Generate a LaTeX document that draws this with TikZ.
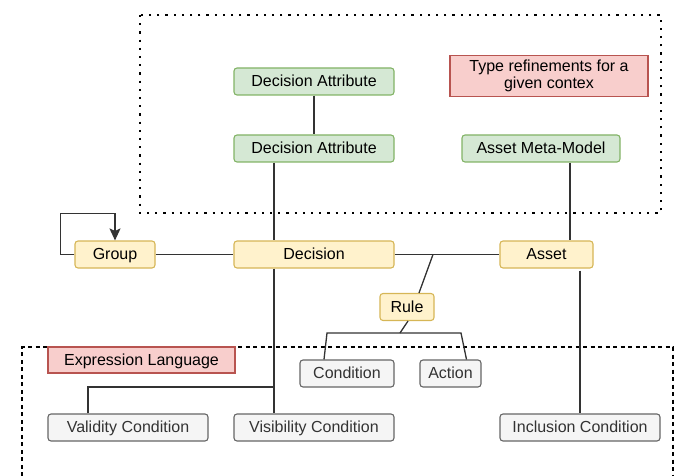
\documentclass[tikz,border=0pt]{standalone}
\usepackage{fontspec}
\setmainfont{Liberation Sans}
\usepackage{tikz}
\usetikzlibrary{arrows.meta}
\definecolor{greenfill}{HTML}{D5E8D4}
\definecolor{greenline}{HTML}{82B366}
\definecolor{yellowfill}{HTML}{FFF2CC}
\definecolor{yellowline}{HTML}{D6B656}
\definecolor{grayfill}{HTML}{F5F5F5}
\definecolor{grayline}{HTML}{666666}
\definecolor{redfill}{HTML}{F8CECC}
\definecolor{redline}{HTML}{B85450}
\definecolor{edgecol}{HTML}{333333}
\begin{document}
\begin{tikzpicture}[x=1pt,y=-1pt,
  box/.style={draw,rounded corners=3pt,line width=1.1pt,minimum height=27pt,inner sep=0pt,
    text height=12.5pt,text depth=2pt,font=\fontsize{16}{19}\selectfont},
  attr/.style={box,fill=greenfill,draw=greenline},
  elem/.style={box,fill=yellowfill,draw=yellowline},
  expr/.style={box,fill=grayfill,draw=grayline,text=edgecol},
  note/.style={draw=redline,fill=redfill,line width=1.1pt,inner sep=0pt,align=center,
    font=\fontsize{16}{19}\selectfont},
  link/.style={draw=edgecol,line width=1.3pt}]

\useasboundingbox (0,0) rectangle (680,476);

\draw[line width=2.2pt,dash pattern=on 2.2pt off 6pt] (140,15) rectangle (661,213);
\draw[line width=1.2pt,dash pattern=on 4pt off 3.5pt] (22,476)--(22,347)--(673,347)--(673,476);

\node[attr,minimum width=160pt] (da1) at (314,81.5) {Decision Attribute};
\node[attr,minimum width=160pt] (da2) at (314,148.5) {Decision Attribute};
\node[attr,minimum width=158pt] (amm) at (541,148.5) {Asset Meta-Model};
\node[note,minimum width=198pt,minimum height=41pt] (ctx) at (549,76) {Type refinements for a\\[-2pt]given contex};

\node[elem,minimum width=80pt] (group) at (115,254.5) {Group};
\node[elem,minimum width=160pt] (dec) at (314,254.5) {Decision};
\node[elem,minimum width=93pt] (asset) at (546.5,254.5) {Asset};
\node[elem,minimum width=54pt] (rule) at (407,307) {Rule};

\node[note,minimum width=187pt,minimum height=26pt,text height=12.5pt,text depth=2pt] (lang) at (141.5,360) {Expression Language};
\node[expr,minimum width=94pt] (cond) at (347,373.5) {Condition};
\node[expr,minimum width=61pt] (act) at (450.5,373.5) {Action};
\node[expr,minimum width=160pt] (valid) at (128,427.5) {Validity Condition};
\node[expr,minimum width=160pt] (vis) at (314,427.5) {Visibility Condition};
\node[expr,minimum width=160pt] (incl) at (580,427.5) {Inclusion Condition};

\coordinate (rj) at (433,254.5);
\coordinate (rb) at (400,333);
\coordinate (cl) at (327,333);
\coordinate (cr) at (461,333);
\coordinate (vb) at (274,387);

\draw[link] (da1) -- (da2);
\draw[link] ([xshift=-40pt]da2.south) -- ([xshift=-40pt]dec.north);
\draw[link] ([xshift=-40pt]dec.south) -- ([xshift=-40pt]vis.north);
\draw[link] ([xshift=-40pt]valid.north) |- (vb);
\draw[link] ([xshift=29pt]amm.south) -- ([xshift=29pt]amm.south |- asset.north);
\draw[link] ([yshift=-2pt]asset.south -| incl.north) -- (incl.north);
\draw[link] (group) -- (dec);
\draw[link] (dec) -- (asset);
\draw[link] (rj) -- ([xshift=12pt]rule.north);
\draw[link] ([xshift=1pt]rule.south) -- (rb);
\draw[link] ([xshift=-23pt]cond.north) -- (cl) -- (cr) -- ([xshift=16pt]act.north);
\draw[link,-{Stealth[length=12pt,width=11pt,inset=2.5pt]}] (group.west) -- ++(-14,0) |- ([yshift=27pt]group.north) -- (group.north);

\end{tikzpicture}
\end{document}
